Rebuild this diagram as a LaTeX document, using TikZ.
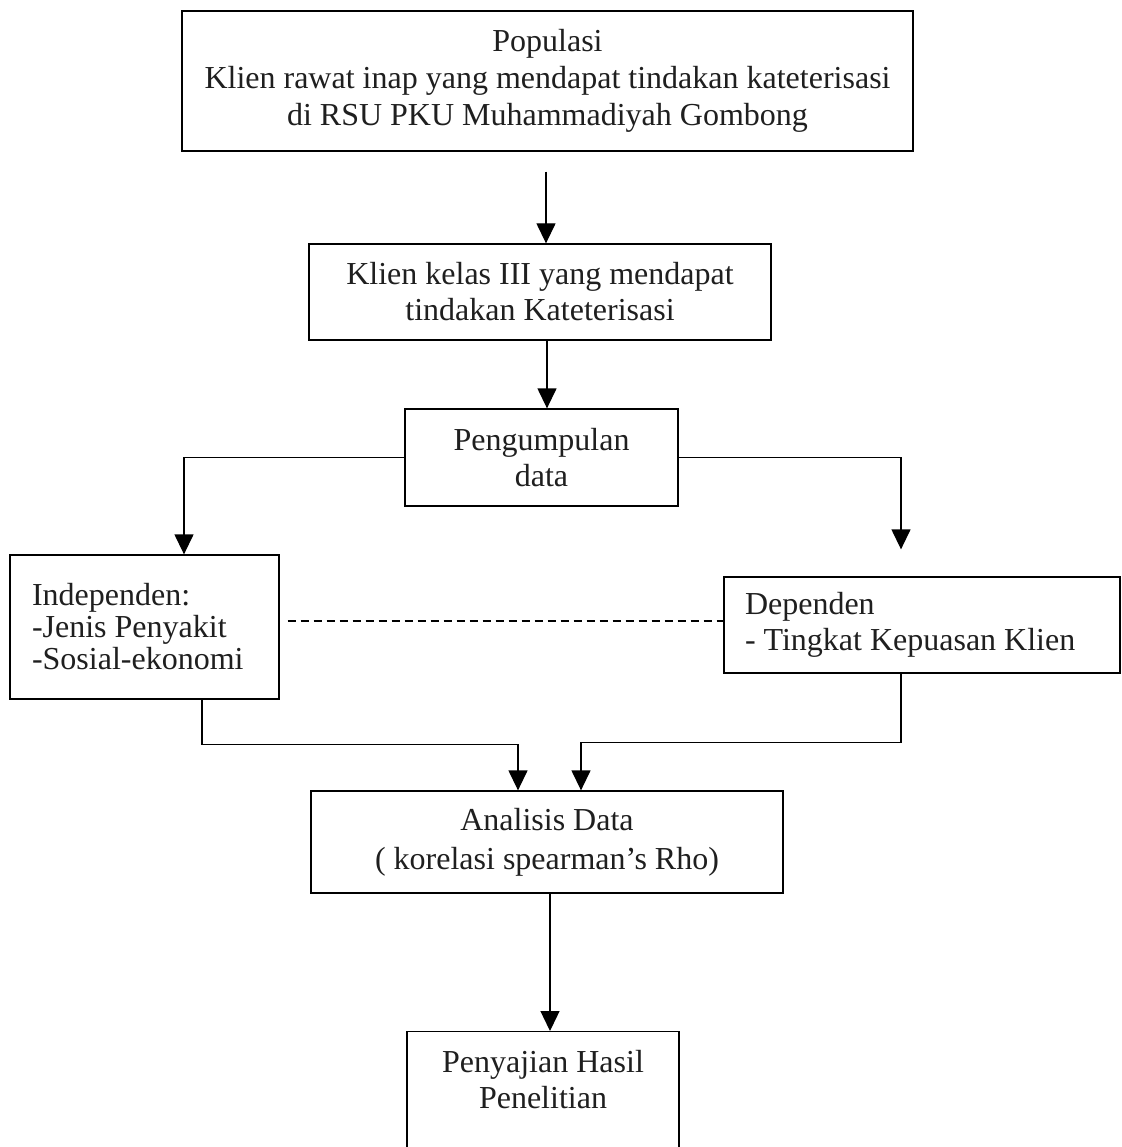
\documentclass[tikz,border=0pt]{standalone}
\usepackage{fontspec}
\setmainfont{Liberation Serif}
\usetikzlibrary{arrows.meta,calc}
\begin{document}
\begin{tikzpicture}[x=1pt,y=-1pt,
  txt/.style={font=\fontsize{32}{36}\selectfont, text=black!88},
  box/.style={txt, draw, line width=1.3pt, align=center, inner sep=0pt},
  arr/.style={line width=1.3pt, -{Triangle[width=19pt,length=20pt]}},
  lnk/.style={line width=1.3pt},
  dsh/.style={line width=1.3pt, dash pattern=on 8pt off 5pt}]
\useasboundingbox (0,0) rectangle (1121,1147);
\clip (0,0) rectangle (1121,1147);
\fill[white] (0,0) rectangle (1121,1147);

\node[box, font=\fontsize{32}{37}\selectfont, minimum width=731pt, minimum height=140pt] (b1) at (547.5,81)
  {Populasi\\Klien rawat inap yang mendapat tindakan kateterisasi\\di RSU PKU Muhammadiyah Gombong};
\node[box, minimum width=462pt, minimum height=96pt] (b2) at (540,292)
  {Klien kelas III yang mendapat\\tindakan Kateterisasi};
\node[box, minimum width=273pt, minimum height=97pt] (b3) at (541.5,457.5)
  {Pengumpulan\\data};
\node[box, font=\fontsize{32}{32}\selectfont, align=flush left, text width=225pt, inner xsep=22pt, minimum height=144pt] (b4) at (144.5,627)
  {Independen:\\-Jenis Penyakit\\-Sosial-ekonomi};
\node[box, align=flush left, text width=354pt, inner xsep=21pt, minimum height=96pt] (b5) at (922,625)
  {Dependen\\- Tingkat Kepuasan Klien};
\node[box, font=\fontsize{32}{39}\selectfont, minimum width=472pt, minimum height=102pt] (b6) at (547,842)
  {Analisis Data\\( korelasi spearman’s Rho)};
\node[draw, line width=1.3pt, minimum width=272pt, minimum height=140pt, anchor=north, inner sep=0pt] (b7) at (543,1031) {};
\node[txt, align=center] (t7) at (543,1079.5) {Penyajian Hasil\\Penelitian};

% connectors
\draw[arr] ($(b1.south)+(-1.5,20)$) -- ($(b1.south |- b2.north)+(-1.5,0)$);
\draw[arr] ($(b2.south)+(7,0)$) -- ($(b2.south |- b3.north)+(7,0)$);
\draw[arr] (b3.west) -| ($(b4.north)+(39.5,0)$);
\draw[arr] (b3.east) -| ($(b5.north)+(-21,-27)$);
\draw[dsh] ($(b4.east |- b5.west)+(8,-4)$) -- ($(b5.west)+(0,-4)$);
\draw[arr] ($(b4.south)+(57.5,0)$) |- ($(b6.north)+(-29,-46)$) -- ($(b6.north)+(-29,0)$);
\draw[arr] ($(b5.south)+(-21,0)$) |- ($(b6.north)+(34,-48)$) -- ($(b6.north)+(34,0)$);
\draw[arr] ($(b6.south)+(3,0)$) -- ($(b6.south |- b7.north)+(3,0)$);
\end{tikzpicture}
\end{document}
